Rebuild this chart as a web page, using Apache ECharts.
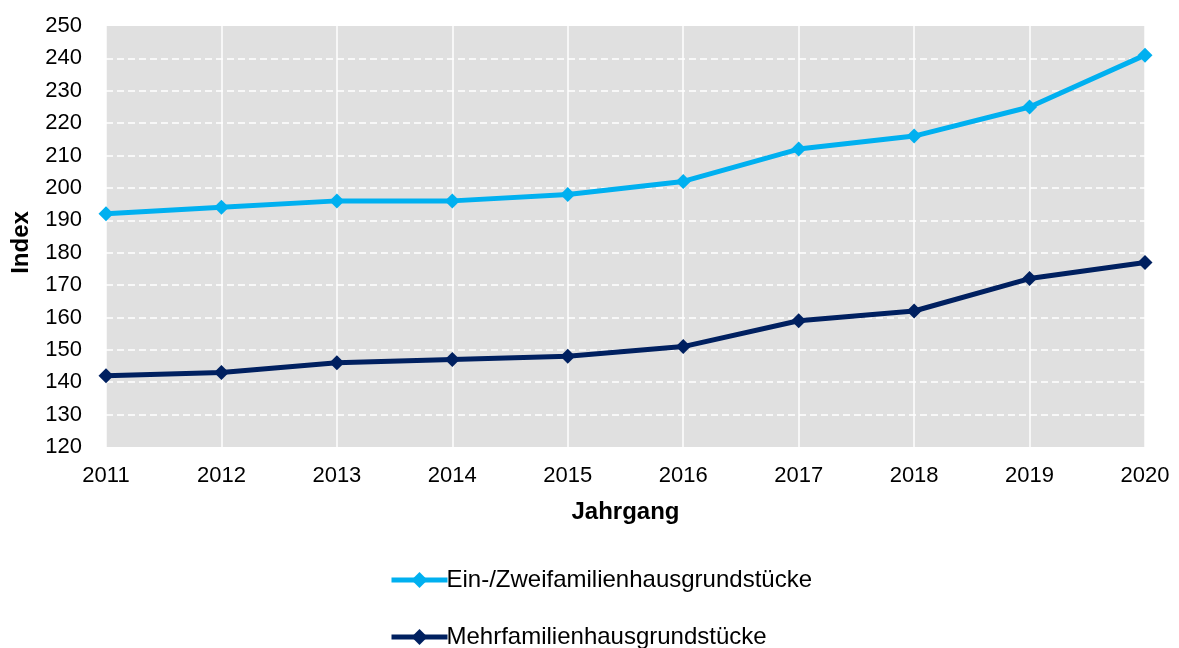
<!DOCTYPE html>
<html>
<head>
<meta charset="utf-8">
<script src="https://cdn.jsdelivr.net/npm/echarts@6/dist/echarts.min.js"></script>
<style>
  html, body { margin:0; padding:0; background:#fff; }
  #chart { width:1179px; height:648px; }
</style>
</head>
<body>
<div id="chart"></div>
<script>
const years = ['2011', '2012', '2013', '2014', '2015', '2016', '2017', '2018', '2019', '2020']
const einZwei = [192, 194, 196, 196, 198, 202, 212, 216, 225, 241]
const mehr = [142, 143, 146, 147, 148, 151, 159, 162, 172, 177]
const seriesNames = ['Ein-/Zweifamilienhausgrundstücke', 'Mehrfamilienhausgrundstücke']

const font = 'Arial, "Liberation Sans", sans-serif'
const chart = echarts.init(document.getElementById('chart'), null, { renderer: 'canvas' })

function lineSeries(name, data, color){
  return {
    name,
    type: 'line',
    data,
    symbol: 'diamond',
    symbolSize: 15,
    lineStyle: { color, width: 5 },
    itemStyle: { color },
    animation: false,
  }
}

function legendFor(name, top){
  return {
    left: 389,
    top,
    itemWidth: 56,
    itemHeight: 20,
    padding: 0,
    lineStyle: { width: 5 },
    textStyle: { fontSize: 24, fontFamily: font, color: '#000', padding: [0, 0, 0, -6] },
    data: [name],
  }
}

chart.setOption({
  backgroundColor: '#fff',
  textStyle: { fontFamily: font, color: '#000' },
  grid: {
    left: 106, right: 34, top: 26, bottom: 201,
    show: true, backgroundColor: '#e0e0e0', borderWidth: 0,
  },
  legend: [
    legendFor(seriesNames[0], 568),
    legendFor(seriesNames[1], 625),
  ],
  xAxis: {
    type: 'category',
    data: years,
    boundaryGap: false,
    name: 'Jahrgang',
    nameLocation: 'middle',
    nameGap: 53,
    nameTextStyle: { fontSize: 24, fontWeight: 'bold', fontFamily: font, color: '#000' },
    axisLine: { show: false },
    axisTick: { show: false },
    axisLabel: { fontSize: 22, margin: 18, color: '#000', fontFamily: font },
    splitLine: { show: true, lineStyle: { color: '#fff', width: 1.5, type: 'solid' } },
  },
  yAxis: {
    type: 'value',
    min: 120,
    max: 250,
    interval: 10,
    name: 'Index',
    nameLocation: 'middle',
    nameGap: 73,
    nameTextStyle: { fontSize: 24, fontWeight: 'bold', fontFamily: font, color: '#000', padding: [0, 12, 0, 0] },
    axisLine: { show: false },
    axisTick: { show: false },
    axisLabel: { fontSize: 22, margin: 24, color: '#000', fontFamily: font },
    splitLine: { show: true, showMinLine: false, showMaxLine: false, lineStyle: { color: '#fff', width: 1.5, type: [7, 4] } },
  },
  series: [
    lineSeries(seriesNames[0], einZwei, '#00b0f0'),
    lineSeries(seriesNames[1], mehr, '#002060'),
  ],
})
</script>
</body>
</html>
